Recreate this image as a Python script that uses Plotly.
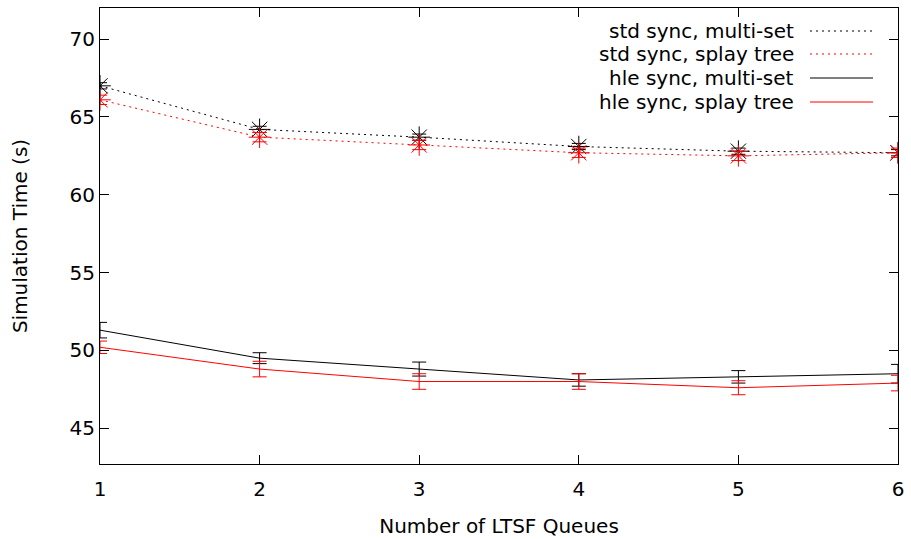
import plotly.graph_objects as go

queues = [1, 2, 3, 4, 5, 6]

std_multiset = [67.0, 64.2, 63.7, 63.1, 62.8, 62.7]
std_multiset_err = [0.2, 0.2, 0.2, 0.2, 0.2, 0.2]
std_splay = [66.1, 63.7, 63.2, 62.7, 62.5, 62.7]
std_splay_err = [0.3, 0.3, 0.3, 0.3, 0.3, 0.3]
hle_multiset = [51.3, 49.5, 48.8, 48.1, 48.3, 48.5]
hle_multiset_err = [0.5, 0.35, 0.45, 0.4, 0.4, 0.6]
hle_splay = [50.2, 48.8, 48.0, 48.0, 47.6, 47.9]
hle_splay_err = [0.4, 0.5, 0.5, 0.5, 0.45, 0.5]

names = ["std sync, multi-set", "std sync, splay tree", "hle sync, multi-set", "hle sync, splay tree"]

FONT = "DejaVu Sans"
fig = go.Figure()

def add(y, err, color, dash, marker, name):
    fig.add_trace(go.Scatter(
        x=queues, y=y, name=name, mode="lines+markers" if marker else "lines",
        line=dict(color=color, width=1, dash=dash),
        marker=dict(symbol="asterisk-open", size=18, line=dict(color=color, width=1), color=color) if marker else None,
        error_y=dict(type="data", array=err, visible=True, color=color, thickness=1, width=7),
        showlegend=False,
    ))

add(std_multiset, std_multiset_err, "black", "2px,4px", True, names[0])
add(std_splay, std_splay_err, "#ff0000", "2px,4px", True, names[1])
add(hle_multiset, hle_multiset_err, "black", "solid", False, names[2])
add(hle_splay, hle_splay_err, "#ff0000", "solid", False, names[3])

# manual gnuplot-style legend (text right, sample on right)
W, H = 798.0, 456.0
rows = [31, 54, 78, 102]
colors = ["black", "#ff0000", "black", "#ff0000"]
dashes = ["2px,4px", "2px,4px", "solid", "solid"]
for nm, ry, c, d in zip(names, rows, colors, dashes):
    yp = (464 - ry) / H
    fig.add_annotation(x=(796 - 100) / W, y=yp, xref="paper", yref="paper", text=nm,
                       showarrow=False, xanchor="right", yanchor="middle",
                       font=dict(family=FONT, size=20, color="black"))
    fig.add_shape(type="line", xref="paper", yref="paper",
                  x0=(810 - 100) / W, x1=(873 - 100) / W, y0=yp, y1=yp,
                  line=dict(color=c, width=1, dash=d))

axis_common = dict(showline=True, linecolor="black", linewidth=1, mirror="ticks",
                   ticks="inside", ticklen=9, tickcolor="black", tickwidth=1,
                   showgrid=False, zeroline=False,
                   tickfont=dict(family=FONT, size=20, color="black"))

fig.update_xaxes(range=[1, 6], tickvals=queues, ticktext=[str(q) for q in queues],
                 ticklabelstandoff=7,
                 title=dict(text="Number of LTSF Queues", font=dict(family=FONT, size=20, color="black"), standoff=18),
                 **axis_common)
fig.update_yaxes(range=[42.7, 72.0], tickvals=[45, 50, 55, 60, 65, 70],
                 title=dict(text="Simulation Time (s)", font=dict(family=FONT, size=20, color="black"), standoff=36),
                 **axis_common)

fig.update_layout(width=911, height=539, margin=dict(l=100, r=13, t=8, b=75, autoexpand=False),
                  plot_bgcolor="white", paper_bgcolor="white",
                  font=dict(family=FONT, size=20, color="black"))

fig.write_html("out.html", config={"displayModeBar": False},
               post_script="document.body.style.margin='0';document.body.style.overflow='hidden';")
